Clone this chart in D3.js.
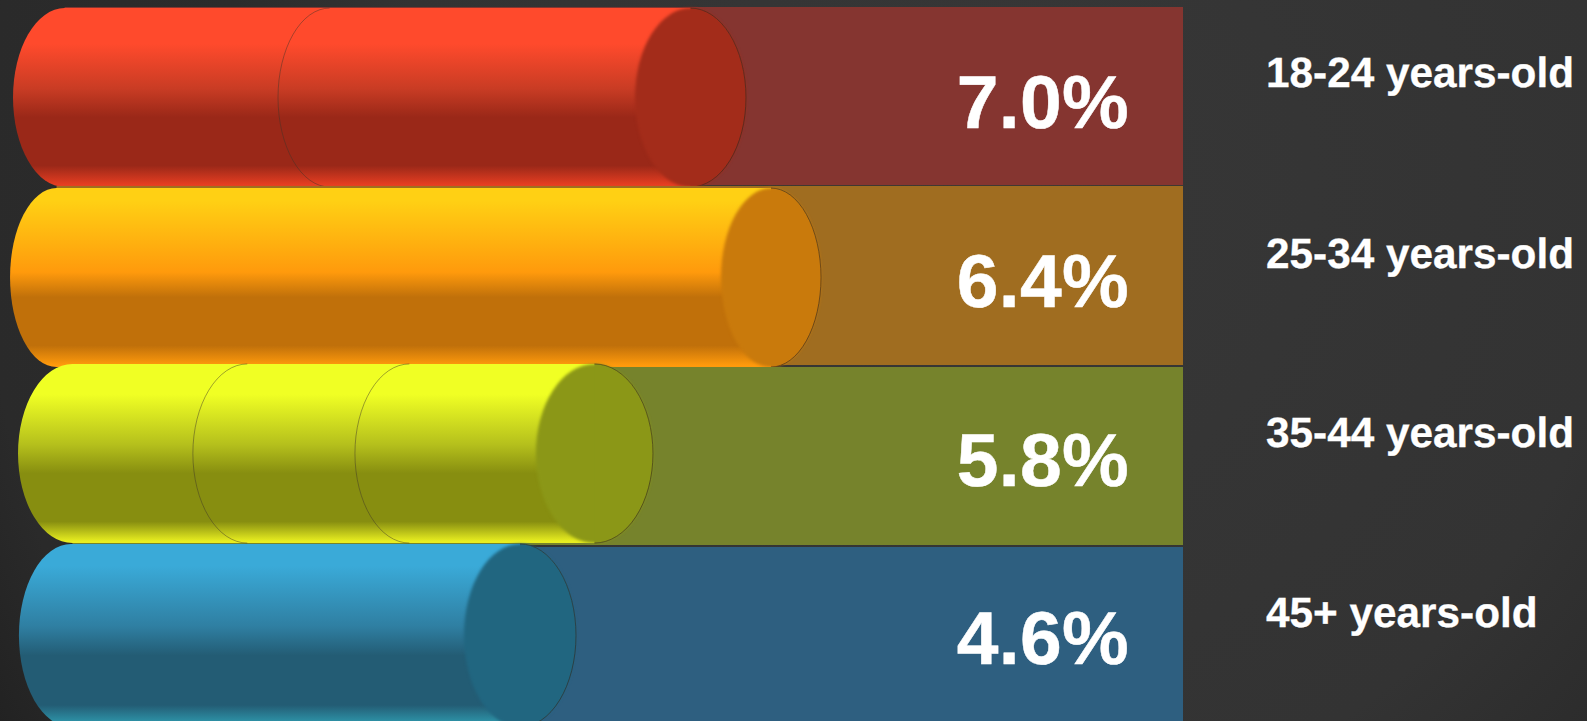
<!DOCTYPE html>
<html><head><meta charset="utf-8">
<script src="https://cdn.jsdelivr.net/npm/d3@7/dist/d3.min.js"></script>
<style>html,body{margin:0;padding:0;background:#2f2f2f;overflow:hidden}svg{display:block}text{text-rendering:geometricPrecision}</style>
</head><body><svg id="c" width="1587" height="721"></svg>
<script>
// Data
const categories = ["18-24 years-old","25-34 years-old","35-44 years-old","45+ years-old"];
const values = [7.0,6.4,5.8,4.6];
// Cylinder geometry, in % of panel width
const cylStart = [1.1,0.85,1.52,1.6];
const cylEnd = [63.06,69.4,55.2,48.69];
const capLeft = [53.68,60.95,45.3,39.22];
const seams = [[23.5],[],[16.3,30.0],[]];
// Row units (1 row = one panel pitch)
const panelTop = [0,0.994,2,3];
const panelBottom = [0.989,1.989,2.989,4];
const cylTop = [0.006,1.006,1.983,2.983];
const cylBottom = [1.0,2.0,2.978,4.0];
const valueBase = [0.672,1.667,2.661,3.65];
const labelBase = [0.445,1.45,2.445,3.445];
// Colours
const panelCol = ["#853530","#a06d20","#76832c","#2e5f80"];
const capCol = ["#a32c1a","#c97a0c","#8b9717","#216680"];
const gradTop = ["#ff4a2c","#ffd014","#f0ff24","#3aaad8"];
const gradMid = ["#c93c24","#ff9a0c","#b5c01c","#2f7fa2"];
const gradDark = ["#9a2818","#c0700a","#878e10","#235c74"];
const gradBottom = ["#e83e22","#ff9a0c","#e8ee20","#2f9cb0"];
const topHold = [0.2,0.07,0.17,0.12];
const midAt = [0.45,0.47,0.45,0.45];

const W=1587,H=721;
const x=d3.scaleLinear().domain([0,100]).range([0,1183]);
const y=d3.scaleLinear().domain([0,4]).range([7,727]);
const svg=d3.select("#c");
const defs=svg.append("defs");
const bg=defs.append("radialGradient").attr("id","bg").attr("gradientUnits","userSpaceOnUse")
  .attr("cx",1000).attr("cy",200).attr("r",1130);
[[0,"#373737"],[0.55,"#333333"],[0.7,"#2c2c2c"],[0.9,"#2a2a2a"],[1,"#222222"]].forEach(s=>bg.append("stop").attr("offset",s[0]).attr("stop-color",s[1]));
svg.append("rect").attr("width",W).attr("height",H).attr("fill","url(#bg)");

categories.forEach((c,i)=>{
  const g=defs.append("linearGradient").attr("id","g"+i).attr("x1",0).attr("x2",0).attr("y1",0).attr("y2",1);
  [[0,gradTop[i]],[topHold[i],gradTop[i]],[midAt[i],gradMid[i]],[0.61,gradDark[i]],[0.88,gradDark[i]],[0.99,gradBottom[i]]]
   .forEach(s=>g.append("stop").attr("offset",s[0]).attr("stop-color",s[1]));
  const f=defs.append("filter").attr("id","soft"+i).attr("x","-10%").attr("width","120%")
    .attr("color-interpolation-filters","sRGB");
  f.append("feGaussianBlur").attr("stdDeviation",1.5);
});

const rows=svg.selectAll("g.row").data(categories).join("g").attr("class","row");

rows.each(function(d,i){
  const g=d3.select(this);
  const L=x(cylStart[i]),R=x(cylEnd[i]),cl=x(capLeft[i]);
  const rx=(R-cl)/2,rxL=rx*0.93;
  g.append("rect").attr("x",L+rxL).attr("width",x(100)-L-rxL)
   .attr("y",y(panelTop[i])).attr("height",y(panelBottom[i])-y(panelTop[i]))
   .attr("fill",panelCol[i]);
});
rows.each(function(d,i){
  const g=d3.select(this);
  const t=y(cylTop[i]),b=y(cylBottom[i]),ry=(b-t)/2,cy=(t+b)/2;
  const L=x(cylStart[i]),R=x(cylEnd[i]),cl=x(capLeft[i]);
  const rx=(R-cl)/2,rxL=rx*0.93;
  g.append("path").attr("d",
    `M${L+rxL},${t}L${R-rx},${t}A${rx},${ry} 0 0 1 ${R-rx},${b}L${L+rxL},${b}A${rxL},${ry} 0 0 1 ${L+rxL},${t}Z`)
   .attr("fill",`url(#g${i})`);
  seams[i].forEach(s=>{
    const sx=x(s);
    g.append("path").attr("d",`M${sx+rxL},${t}A${rxL},${ry} 0 0 0 ${sx+rxL},${b}`)
     .attr("fill","none").attr("stroke","rgba(60,50,40,0.45)").attr("stroke-width",1);
  });
  g.append("ellipse").attr("cx",R-rx).attr("cy",cy).attr("rx",rx).attr("ry",ry)
   .attr("fill",capCol[i]).attr("filter",`url(#soft${i})`);
  g.append("path").attr("d",`M${R-rx},${t}A${rx},${ry} 0 0 1 ${R-rx},${b}`)
   .attr("fill",capCol[i]);
  g.append("path").attr("d",`M${R-rx},${t}A${rx},${ry} 0 0 1 ${R-rx},${b}`)
   .attr("fill","none").attr("stroke","rgba(50,40,30,0.6)").attr("stroke-width",1);
});

const font="'Liberation Sans',Arial,sans-serif";
rows.append("text").text((d,i)=>values[i].toFixed(1)+"%")
  .attr("x",x(100)-54).attr("y",(d,i)=>y(valueBase[i]))
  .attr("text-anchor","end").attr("font-family",font).attr("font-weight",700).attr("font-size",75)
  .attr("letter-spacing",0.3)
  .attr("fill","#fff").attr("stroke","#fff").attr("stroke-width",0.5);
rows.append("text").text(d=>d)
  .attr("x",1266).attr("y",(d,i)=>y(labelBase[i]))
  .attr("font-family",font).attr("font-weight",700).attr("font-size",42.3)
  .attr("fill","#fff").attr("stroke","#fff").attr("stroke-width",0.3);
</script></body></html>
